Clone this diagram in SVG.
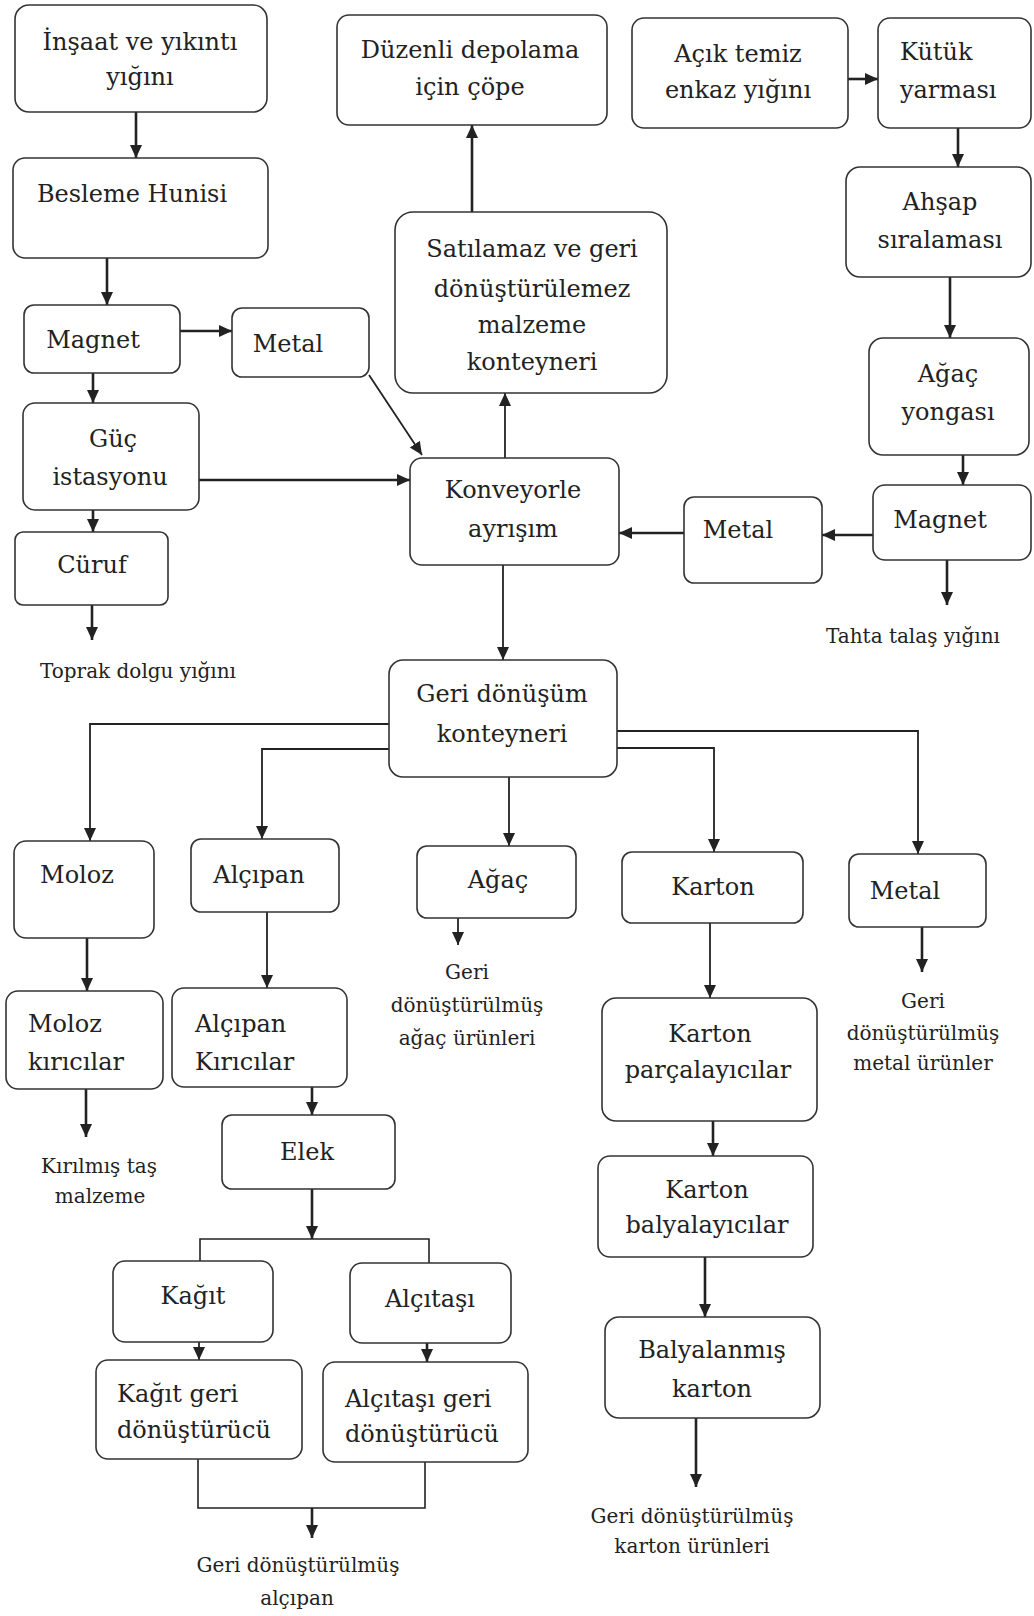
<svg xmlns="http://www.w3.org/2000/svg" width="1034" height="1616" viewBox="0 0 1034 1616">
<defs>
<marker id="ah" markerUnits="userSpaceOnUse" markerWidth="14" markerHeight="14" viewBox="0 0 14 14" refX="13" refY="7" orient="auto">
<path d="M0,1 L13,7 L0,13 z" fill="#222"/>
</marker>
<style>
.box{fill:#fff;stroke:#333;stroke-width:1.6}
.t{font-family:"DejaVu Serif","Liberation Serif",serif;font-size:24px;fill:#222;text-anchor:middle}
.tl{font-family:"DejaVu Serif","Liberation Serif",serif;font-size:24px;fill:#222;text-anchor:start}
.lb{font-family:"DejaVu Serif","Liberation Serif",serif;font-size:20px;fill:#222;text-anchor:middle}
.a{fill:none;stroke:#222;stroke-width:2.6;marker-end:url(#ah)}
.b{fill:none;stroke:#222;stroke-width:1.8;marker-end:url(#ah)}
.l{fill:none;stroke:#222;stroke-width:1.6}
</style>
</defs>
<rect width="1034" height="1616" fill="#fff"/>
<g id="connectors">
<path class="a" d="M136,112 V158"/>
<path class="a" d="M107,258 V305"/>
<path class="a" d="M180,331 H232"/>
<path class="a" d="M93,373 V403"/>
<path class="a" d="M199,480 H410"/>
<path class="b" d="M369,375 L422,455"/>
<path class="a" d="M93,510 V532"/>
<path class="a" d="M92,605 V640"/>
<path class="b" d="M505,458 V393"/>
<path class="a" d="M472,212 V125"/>
<path class="b" d="M503,565 V660"/>
<path class="a" d="M848,79 H878"/>
<path class="a" d="M958,128 V167"/>
<path class="a" d="M950,277 V338"/>
<path class="a" d="M963,455 V485"/>
<path class="a" d="M873,535 H822"/>
<path class="a" d="M947,560 V605"/>
<path class="a" d="M684,533 H619"/>
<path class="b" d="M389,724 H90 V841"/>
<path class="b" d="M389,749 H262 V839"/>
<path class="b" d="M509,777 V846"/>
<path class="b" d="M617,748 H714 V852"/>
<path class="b" d="M617,731 H918 V854"/>
<path class="b" d="M458,918 V945"/>
<path class="b" d="M710,923 V998"/>
<path class="a" d="M922,927 V972"/>
<path class="a" d="M87,938 V991"/>
<path class="b" d="M267,912 V988"/>
<path class="a" d="M86,1089 V1137"/>
<path class="a" d="M312,1087 V1115"/>
<path class="a" d="M312,1189 V1239"/>
<path class="l" d="M200,1261 V1239 H429 V1263"/>
<path class="b" d="M199,1342 V1360"/>
<path class="a" d="M427,1343 V1362"/>
<path class="l" d="M198,1459 V1508 H425 V1462"/>
<path class="a" d="M312,1508 V1538"/>
<path class="a" d="M713,1121 V1156"/>
<path class="a" d="M705,1257 V1317"/>
<path class="a" d="M696,1418 V1487"/>
</g>
<g id="n_insaat"><rect class="box" x="15" y="5" width="252" height="107" rx="14"/><text class="t" x="140" y="50">İnşaat ve yıkıntı</text><text class="t" x="140" y="85">yığını</text></g>
<g id="n_besleme"><rect class="box" x="13" y="158" width="255" height="100" rx="12"/><text class="t" x="132" y="202">Besleme Hunisi</text></g>
<g id="n_magnet1"><rect class="box" x="24" y="305" width="156" height="68" rx="10"/><text class="t" x="93" y="348">Magnet</text></g>
<g id="n_metal1"><rect class="box" x="232" y="308" width="137" height="69" rx="10"/><text class="t" x="288" y="352">Metal</text></g>
<g id="n_guc"><rect class="box" x="23" y="403" width="176" height="107" rx="12"/><text class="t" x="113" y="447">Güç</text><text class="t" x="110" y="485">istasyonu</text></g>
<g id="n_curuf"><rect class="box" x="15" y="532" width="153" height="73" rx="8"/><text class="t" x="92" y="573">Cüruf</text></g>
<g id="n_toprak"><text class="lb" x="138" y="678">Toprak dolgu yığını</text></g>
<g id="n_duzenli"><rect class="box" x="337" y="15" width="270" height="110" rx="12"/><text class="t" x="470" y="58">Düzenli depolama</text><text class="t" x="470" y="95">için çöpe</text></g>
<g id="n_satilamaz"><rect class="box" x="395" y="212" width="272" height="181" rx="18"/><text class="t" x="532" y="257">Satılamaz ve geri</text><text class="t" x="532" y="297">dönüştürülemez</text><text class="t" x="532" y="333">malzeme</text><text class="t" x="532" y="370">konteyneri</text></g>
<g id="n_konveyor"><rect class="box" x="410" y="458" width="209" height="107" rx="12"/><text class="t" x="513" y="498">Konveyorle</text><text class="t" x="513" y="537">ayrışım</text></g>
<g id="n_acik"><rect class="box" x="632" y="18" width="216" height="110" rx="12"/><text class="t" x="738" y="62">Açık temiz</text><text class="t" x="738" y="98">enkaz yığını</text></g>
<g id="n_kutuk"><rect class="box" x="878" y="18" width="153" height="110" rx="12"/><text class="tl" x="900" y="60">Kütük</text><text class="tl" x="900" y="98">yarması</text></g>
<g id="n_ahsap"><rect class="box" x="846" y="167" width="185" height="110" rx="14"/><text class="t" x="940" y="210">Ahşap</text><text class="t" x="940" y="248">sıralaması</text></g>
<g id="n_agacyonga"><rect class="box" x="869" y="338" width="160" height="117" rx="14"/><text class="t" x="948" y="382">Ağaç</text><text class="t" x="948" y="420">yongası</text></g>
<g id="n_magnet2"><rect class="box" x="873" y="485" width="158" height="75" rx="12"/><text class="t" x="940" y="528">Magnet</text></g>
<g id="n_tahta"><text class="lb" x="913" y="643">Tahta talaş yığını</text></g>
<g id="n_metal2"><rect class="box" x="684" y="497" width="138" height="86" rx="10"/><text class="t" x="738" y="538">Metal</text></g>
<g id="n_geri"><rect class="box" x="389" y="660" width="228" height="117" rx="14"/><text class="t" x="502" y="702">Geri dönüşüm</text><text class="t" x="502" y="742">konteyneri</text></g>
<g id="n_moloz"><rect class="box" x="14" y="841" width="140" height="97" rx="12"/><text class="t" x="77" y="883">Moloz</text></g>
<g id="n_alcipan"><rect class="box" x="191" y="839" width="148" height="73" rx="10"/><text class="t" x="259" y="883">Alçıpan</text></g>
<g id="n_agac"><rect class="box" x="417" y="846" width="159" height="72" rx="10"/><text class="t" x="498" y="888">Ağaç</text></g>
<g id="n_karton"><rect class="box" x="622" y="852" width="181" height="71" rx="10"/><text class="t" x="713" y="895">Karton</text></g>
<g id="n_metal3"><rect class="box" x="849" y="854" width="137" height="73" rx="10"/><text class="t" x="905" y="899">Metal</text></g>
<g id="n_agacurun"><text class="lb" x="467" y="979">Geri</text><text class="lb" x="467" y="1012">dönüştürülmüş</text><text class="lb" x="467" y="1045">ağaç ürünleri</text></g>
<g id="n_metalurun"><text class="lb" x="923" y="1008">Geri</text><text class="lb" x="923" y="1040">dönüştürülmüş</text><text class="lb" x="923" y="1070">metal ürünler</text></g>
<g id="n_molozkir"><rect class="box" x="6" y="991" width="157" height="98" rx="12"/><text class="tl" x="28" y="1032">Moloz</text><text class="tl" x="28" y="1070">kırıcılar</text></g>
<g id="n_alcipankir"><rect class="box" x="172" y="988" width="175" height="99" rx="12"/><text class="tl" x="195" y="1032">Alçıpan</text><text class="tl" x="195" y="1070">Kırıcılar</text></g>
<g id="n_kirilmis"><text class="lb" x="99" y="1173">Kırılmış taş</text><text class="lb" x="100" y="1203">malzeme</text></g>
<g id="n_elek"><rect class="box" x="222" y="1115" width="173" height="74" rx="10"/><text class="t" x="307" y="1160">Elek</text></g>
<g id="n_kartonparca"><rect class="box" x="602" y="998" width="215" height="123" rx="14"/><text class="t" x="710" y="1042">Karton</text><text class="t" x="708" y="1078">parçalayıcılar</text></g>
<g id="n_kartonbalya"><rect class="box" x="598" y="1156" width="215" height="101" rx="12"/><text class="t" x="707" y="1198">Karton</text><text class="t" x="707" y="1233">balyalayıcılar</text></g>
<g id="n_balyalanmis"><rect class="box" x="605" y="1317" width="215" height="101" rx="14"/><text class="t" x="712" y="1358">Balyalanmış</text><text class="t" x="712" y="1397">karton</text></g>
<g id="n_kartonurun"><text class="lb" x="692" y="1523">Geri dönüştürülmüş</text><text class="lb" x="692" y="1553">karton ürünleri</text></g>
<g id="n_kagit"><rect class="box" x="113" y="1261" width="160" height="81" rx="12"/><text class="t" x="193" y="1304">Kağıt</text></g>
<g id="n_alcitasi"><rect class="box" x="350" y="1263" width="161" height="80" rx="12"/><text class="t" x="430" y="1307">Alçıtaşı</text></g>
<g id="n_kagitgeri"><rect class="box" x="96" y="1360" width="206" height="99" rx="12"/><text class="tl" x="117" y="1402">Kağıt geri</text><text class="tl" x="117" y="1438">dönüştürücü</text></g>
<g id="n_alcitasigeri"><rect class="box" x="323" y="1362" width="205" height="100" rx="12"/><text class="tl" x="345" y="1407">Alçıtaşı geri</text><text class="tl" x="345" y="1442">dönüştürücü</text></g>
<g id="n_alcipanurun"><text class="lb" x="298" y="1572">Geri dönüştürülmüş</text><text class="lb" x="297" y="1605">alçıpan</text></g>
</svg>
